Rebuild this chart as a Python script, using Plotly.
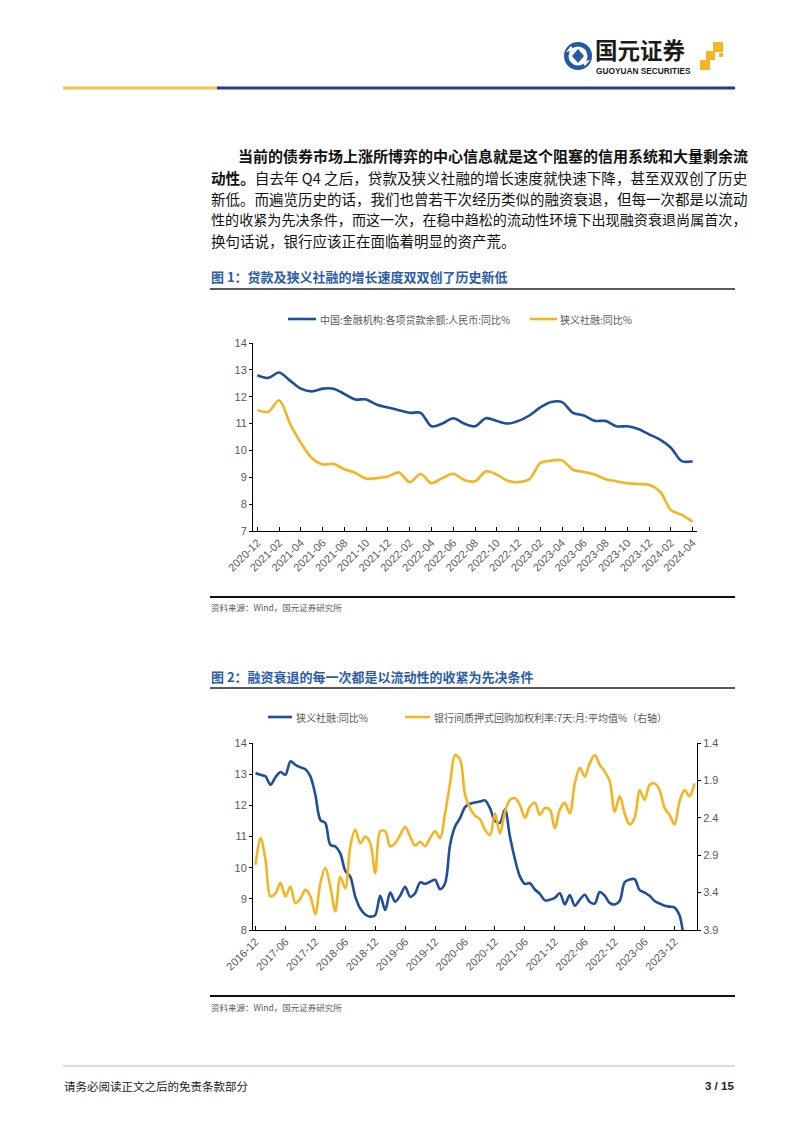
import plotly.graph_objects as go
import pandas as pd

W, H = 802, 1133
def X(p): return p / W
def Y(p): return 1 - p / H

BLUE = "#1F4E9C"
YELLOW = "#F5B422"
GRAY = "#595959"
CJK = "Noto Sans CJK SC"
LAT = "Liberation Sans"

# ---------------- Chart 1 data (2020-12 .. 2024-04, monthly) ----------------
c1_months = [p.strftime("%Y-%m") for p in pd.period_range("2020-12", "2024-04", freq="M")]
c1_loans = [12.8, 12.7, 12.9, 12.6, 12.3, 12.2, 12.3, 12.3, 12.1, 11.9, 11.9, 11.7, 11.6,
            11.5, 11.4, 11.4, 10.9, 11.0, 11.2, 11.0, 10.9, 11.2, 11.1, 11.0, 11.1,
            11.3, 11.6, 11.8, 11.8, 11.4, 11.3, 11.1, 11.1, 10.9, 10.9, 10.8, 10.6,
            10.4, 10.1, 9.6, 9.6]
c1_tsf = [11.5, 11.44, 11.87, 11.0, 10.28, 9.72, 9.48, 9.5, 9.3, 9.16, 8.95, 8.97, 9.03,
          9.18, 8.82, 9.12, 8.78, 8.97, 9.13, 8.9, 8.85, 9.22, 9.1, 8.87, 8.82,
          8.93, 9.53, 9.62, 9.63, 9.28, 9.2, 9.1, 8.93, 8.85, 8.78, 8.75, 8.72,
          8.47, 7.78, 7.6, 7.35]
c1_ticks = c1_months[::2]
c1_yticks = [7, 8, 9, 10, 11, 12, 13, 14]

# ---------------- Chart 2 data (2016-12 .. 2024-04, monthly) ----------------
c2_months = [p.strftime("%Y-%m") for p in pd.period_range("2016-12", "2024-04", freq="M")]
c2_tsf = [13.04, 12.98, 12.93, 12.66, 12.9, 13.07, 12.98, 13.41, 13.3, 13.22, 13.16, 12.93,
          12.34, 11.53, 11.43, 10.73, 10.68, 10.46, 9.9, 9.71, 9.07, 8.69, 8.5, 8.43,
          8.48, 9.1, 8.64, 9.2, 8.91, 9.1, 9.39, 9.07, 9.18, 9.53, 9.48, 9.55,
          9.61, 9.31, 9.5, 10.73, 11.32, 11.59, 11.94, 12.05, 12.09, 12.12, 12.16, 11.91,
          11.5, 11.44, 11.87, 11.0, 10.28, 9.72, 9.48, 9.5, 9.3, 9.16, 8.95, 8.97,
          9.03, 9.18, 8.82, 9.12, 8.78, 8.97, 9.13, 8.9, 8.85, 9.22, 9.1, 8.87,
          8.82, 8.93, 9.53, 9.62, 9.63, 9.28, 9.2, 9.1, 8.93, 8.85, 8.78, 8.75,
          8.72, 8.47, 7.78, 7.6, 7.35]
c2_r007 = [3.03, 2.67, 2.96, 3.45, 3.41, 3.27, 3.45, 3.32, 3.54, 3.48,
           3.36, 3.45, 3.69, 3.27, 3.07, 3.32, 3.65, 3.19, 3.34, 2.78,
           2.56, 2.74, 2.65, 2.74, 3.14, 2.58, 2.58, 2.78, 2.74, 2.63,
           2.52, 2.65, 2.77, 2.72, 2.78, 2.67, 2.58, 2.67, 2.34, 1.94,
           1.56, 1.62, 2.09, 2.27, 2.37, 2.42, 2.56, 2.63, 2.34, 2.61,
           2.32, 2.16, 2.14, 2.23, 2.4, 2.25, 2.2, 2.36, 2.27, 2.29,
           2.54, 2.29, 2.2, 2.34, 1.94, 1.73, 1.85, 1.67, 1.56, 1.69,
           1.78, 1.91, 2.32, 2.11, 2.34, 2.49, 2.4, 2.03, 2.16, 1.96,
           1.94, 2.03, 2.27, 2.36, 2.49, 2.18, 2.03, 2.11, 1.94]
c2_ticks = c2_months[::6]
c2_yticks_left = [8, 9, 10, 11, 12, 13, 14]
c2_yticks_right = [1.4, 1.9, 2.4, 2.9, 3.4, 3.9]

# ---------------- Text ----------------
name_loans = "中国:金融机构:各项贷款余额:人民币:同比%"
name_tsf = "狭义社融:同比%"
name_r007 = "银行间质押式回购加权利率:7天:月:平均值%（右轴）"
title1 = "图 1：贷款及狭义社融的增长速度双双创了历史新低"
title2 = "图 2：融资衰退的每一次都是以流动性的收紧为先决条件"
source = "资料来源：Wind，国元证券研究所"
para = [
    ("<b>当前的债券市场上涨所博弈的中心信息就是这个阻塞的信用系统和大量剩余流</b>", 237, 15),
    ("<b>动性。</b>自去年 Q4 之后，贷款及狭义社融的增长速度就快速下降，甚至双双创了历史", 210, 14.6),
    ("新低。而遍览历史的话，我们也曾若干次经历类似的融资衰退，但每一次都是以流动", 210, 14.5),
    ("性的收紧为先决条件，而这一次，在稳中趋松的流动性环境下出现融资衰退尚属首次，", 210, 14.1),
    ("换句话说，银行应该正在面临着明显的资产荒。", 210, 14.5),
]
para_y = [155, 177, 198, 219, 240]

fig = go.Figure()
line_kw = dict(width=2.6, shape="spline", smoothing=0.9)
fig.add_trace(go.Scatter(x=c1_months, y=c1_loans, mode="lines", name=name_loans,
                         line=dict(color=BLUE, **line_kw), xaxis="x", yaxis="y", showlegend=False))
fig.add_trace(go.Scatter(x=c1_months, y=c1_tsf, mode="lines", name=name_tsf,
                         line=dict(color=YELLOW, **line_kw), xaxis="x", yaxis="y", showlegend=False))
fig.add_trace(go.Scatter(x=c2_months, y=c2_r007, mode="lines", name=name_r007,
                         line=dict(color=YELLOW, **line_kw), xaxis="x2", yaxis="y3", showlegend=False))
fig.add_trace(go.Scatter(x=c2_months, y=c2_tsf, mode="lines", name=name_tsf,
                         line=dict(color=BLUE, **line_kw), xaxis="x2", yaxis="y2", showlegend=False))

tickfont = dict(family=LAT, size=11, color=GRAY)
xcommon = dict(type="category", tickmode="array", tickangle=-45, ticks="inside", ticklen=4,
               tickcolor="#000", showline=True, linecolor="#000", linewidth=1, showgrid=False,
               zeroline=False, tickfont=tickfont, automargin=False)
ycommon = dict(ticks="outside", ticklen=3, tickcolor="#000", showline=True, linecolor="#000",
               linewidth=1, showgrid=False, zeroline=False, tickfont=tickfont, tickmode="array",
               automargin=False)

fig.update_layout(
    width=W, height=H, margin=dict(l=0, r=0, t=0, b=0, pad=0, autoexpand=False),
    paper_bgcolor="white", plot_bgcolor="white", showlegend=False,
    xaxis=dict(domain=[X(253), X(697)], anchor="y", range=[-0.4, 40.4],
               tickvals=c1_ticks, ticktext=c1_ticks, **xcommon),
    yaxis=dict(domain=[Y(531), Y(343)], anchor="x", range=[7, 14],
               tickvals=c1_yticks, **ycommon),
    xaxis2=dict(domain=[X(253), X(697)], anchor="y2", range=[-0.5, 88.5],
                tickvals=c2_ticks, ticktext=c2_ticks, **xcommon),
    yaxis2=dict(domain=[Y(930), Y(743)], anchor="x2", range=[8, 14],
                tickvals=c2_yticks_left, **ycommon),
    yaxis3=dict(domain=[Y(930), Y(743)], anchor="x2", overlaying="y2", side="right",
                range=[3.9, 1.4], tickvals=c2_yticks_right,
                ticktext=[f"{v:.1f}" for v in c2_yticks_right], **ycommon),
)

shapes = []
ann = []

def hline(x0, x1, y, color, width):
    shapes.append(dict(type="line", xref="paper", yref="paper", x0=X(x0), x1=X(x1),
                       y0=Y(y), y1=Y(y), line=dict(color=color, width=width)))

def text(x, y, s, size, color="#1a1a1a", anchor="left", family=CJK):
    ann.append(dict(xref="paper", yref="paper", x=X(x), y=Y(y), text=s, showarrow=False,
                    xanchor=anchor, yanchor="middle", borderpad=0,
                    font=dict(family=family, size=size, color=color)))

# header
hline(63, 217, 88, "#F6C445", 3)
hline(217, 735, 88, "#1F3F8E", 3)
# logo
def circle(cx, cy, r, color):
    shapes.append(dict(type="circle", xref="paper", yref="paper", x0=X(cx - r), x1=X(cx + r),
                       y0=Y(cy + r), y1=Y(cy - r), fillcolor=color, line=dict(width=0)))
circle(578, 56, 14, "#2459A8")
circle(578, 56, 9.5, "white")
def poly(points, color):
    d = "M " + " L ".join(f"{X(px):.5f},{Y(py):.5f}" for px, py in points) + " Z"
    shapes.append(dict(type="path", xref="paper", yref="paper", path=d, fillcolor=color,
                       line=dict(width=0)))
poly([(578, 49), (584, 56), (578, 63), (572, 56)], "#2459A8")
poly([(566, 52), (571, 46), (574, 50)], "white")
poly([(590, 60), (585, 66), (582, 62)], "white")
for (x0, y0, s) in [(713, 42, 10), (706, 51, 9), (700, 60, 10), (719, 53, 4)]:
    shapes.append(dict(type="rect", xref="paper", yref="paper", x0=X(x0), x1=X(x0 + s),
                       y0=Y(y0 + s), y1=Y(y0), fillcolor="#F5B525", line=dict(width=0)))
text(594, 49, "<b>国元证券</b>", 22.5, "#1a1a1a")
text(595, 71, "<b>GUOYUAN SECURITIES</b>", 8.3, "#1a1a1a", family=LAT)

# paragraph
for (s, x0, sz), yy in zip(para, para_y):
    text(x0, yy, s, sz, "#111111")

# chart 1 frame
text(210, 276, "<b>" + title1 + "</b>", 13, "#2A5CA8")
hline(210, 735, 289, "#222222", 1.5)
hline(288, 316, 319, BLUE, 2.6)
text(319, 319, name_loans, 10, GRAY)
hline(530, 557, 319, YELLOW, 2.6)
text(559, 319, name_tsf, 10, GRAY)
hline(210, 735, 597, "#111111", 2)
text(210, 607, source, 8.5, GRAY)

# chart 2 frame
text(210, 676, "<b>" + title2 + "</b>", 13, "#2A5CA8")
hline(210, 735, 688, "#222222", 1.5)
hline(268, 292, 717, BLUE, 2.6)
text(295, 717, name_tsf, 10, GRAY)
hline(405, 430, 717, YELLOW, 2.6)
text(433, 717, name_r007, 10, GRAY)
hline(210, 735, 996, "#111111", 2)
text(210, 1007, source, 8.5, GRAY)

# footer
hline(63, 735, 1066, "#BBBBBB", 1)
text(63, 1086, "请务必阅读正文之后的免责条款部分", 11.5, "#222222")
text(735, 1086, "<b>3 / 15</b>", 11.5, "#222222", anchor="right", family=LAT)

fig.update_layout(shapes=shapes, annotations=ann)
fig.write_html("out.html")
